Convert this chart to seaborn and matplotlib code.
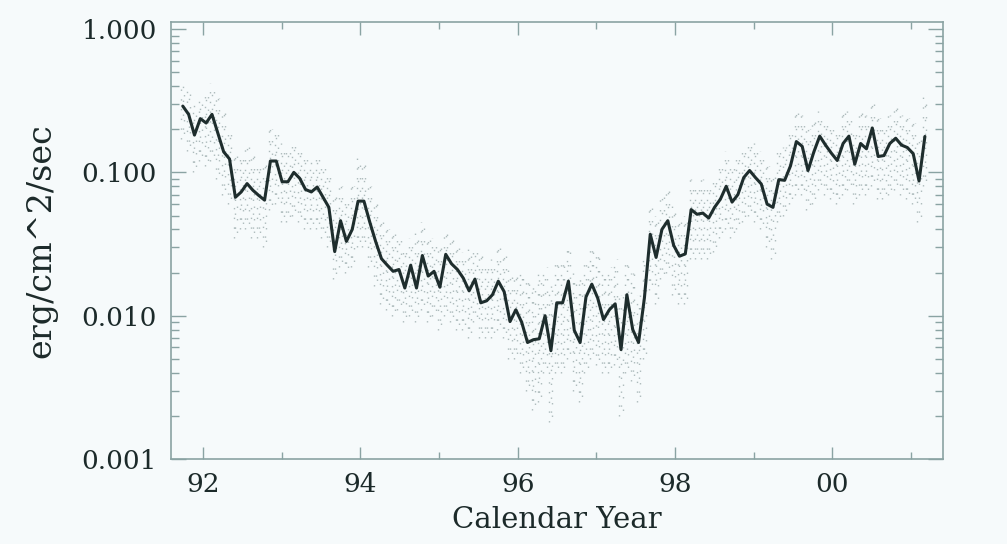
import numpy as np
import pandas as pd
import matplotlib
matplotlib.use("Agg")
import matplotlib.pyplot as plt
import matplotlib.ticker as mticker
import seaborn as sns

# ---- data (solar-rotation averages) ----
start_year = 91.74
rotation_days = 27.15

flux = [
    0.29, 0.254, 0.182, 0.237, 0.221, 0.254, 0.188, 0.139, 0.124, 0.067,
    0.073, 0.0835, 0.075, 0.069, 0.064, 0.12, 0.12, 0.086, 0.086, 0.10,
    0.091, 0.076, 0.073, 0.079, 0.067, 0.057, 0.028, 0.046, 0.033, 0.040,
    0.063, 0.063, 0.045, 0.033, 0.025, 0.0225, 0.0204, 0.021, 0.0156, 0.0225,
    0.0156, 0.0263, 0.0189, 0.0204, 0.0158, 0.0268, 0.023, 0.021, 0.0183, 0.0149,
    0.018, 0.0123, 0.0127, 0.014, 0.0174, 0.0147, 0.0091, 0.011, 0.009, 0.0065,
    0.0068, 0.0069, 0.010, 0.0057, 0.0123, 0.0123, 0.0174, 0.0079, 0.0065, 0.0135,
    0.0166, 0.0133, 0.0094, 0.011, 0.0121, 0.0058, 0.014, 0.008, 0.0065, 0.0133,
    0.037, 0.0255, 0.040, 0.046, 0.031, 0.026, 0.027, 0.055, 0.051, 0.052,
    0.048, 0.057, 0.065, 0.080, 0.062, 0.070, 0.092, 0.103, 0.092, 0.083,
    0.060, 0.057, 0.089, 0.088, 0.111, 0.164, 0.152, 0.103, 0.139, 0.179,
    0.155, 0.136, 0.121, 0.159, 0.179, 0.114, 0.159, 0.146, 0.204, 0.129,
    0.131, 0.159, 0.173, 0.155, 0.149, 0.135, 0.087, 0.178,
]

daily_high = [
    0.40, 0.38, 0.30, 0.33, 0.36, 0.42, 0.33, 0.26, 0.20, 0.14,
    0.13, 0.15, 0.13, 0.12, 0.12, 0.20, 0.19, 0.16, 0.15, 0.16,
    0.15, 0.13, 0.12, 0.13, 0.11, 0.10, 0.07, 0.08, 0.065, 0.08,
    0.13, 0.12, 0.08, 0.06, 0.045, 0.04, 0.038, 0.036, 0.03, 0.035,
    0.04, 0.045, 0.035, 0.035, 0.03, 0.04, 0.035, 0.032, 0.028, 0.03,
    0.03, 0.027, 0.024, 0.025, 0.03, 0.028, 0.022, 0.02, 0.02, 0.018,
    0.016, 0.02, 0.022, 0.016, 0.025, 0.024, 0.03, 0.02, 0.018, 0.025,
    0.03, 0.028, 0.02, 0.022, 0.025, 0.014, 0.025, 0.02, 0.014, 0.025,
    0.06, 0.05, 0.07, 0.08, 0.06, 0.045, 0.05, 0.09, 0.085, 0.09,
    0.085, 0.09, 0.11, 0.14, 0.12, 0.13, 0.15, 0.17, 0.16, 0.14,
    0.11, 0.10, 0.14, 0.15, 0.2, 0.27, 0.25, 0.2, 0.24, 0.27,
    0.24, 0.22, 0.2, 0.26, 0.27, 0.2, 0.26, 0.25, 0.32, 0.24,
    0.22, 0.25, 0.28, 0.25, 0.24, 0.22, 0.18, 0.35,
]

daily_low = [
    0.17, 0.14, 0.10, 0.12, 0.11, 0.12, 0.09, 0.07, 0.06, 0.035,
    0.04, 0.04, 0.035, 0.035, 0.03, 0.055, 0.06, 0.045, 0.045, 0.05,
    0.045, 0.04, 0.04, 0.04, 0.035, 0.03, 0.018, 0.022, 0.02, 0.022,
    0.03, 0.03, 0.022, 0.016, 0.012, 0.011, 0.01, 0.011, 0.009, 0.01,
    0.009, 0.011, 0.009, 0.01, 0.008, 0.01, 0.009, 0.008, 0.008, 0.007,
    0.009, 0.007, 0.007, 0.007, 0.008, 0.007, 0.005, 0.005, 0.004, 0.003,
    0.0022, 0.0025, 0.004, 0.0018, 0.004, 0.004, 0.005, 0.003, 0.0025, 0.004,
    0.005, 0.0045, 0.004, 0.004, 0.0045, 0.002, 0.004, 0.0035, 0.0025, 0.005,
    0.015, 0.012, 0.018, 0.02, 0.014, 0.012, 0.012, 0.025, 0.025, 0.025,
    0.025, 0.028, 0.035, 0.04, 0.035, 0.04, 0.045, 0.05, 0.045, 0.04,
    0.03, 0.025, 0.045, 0.05, 0.06, 0.07, 0.07, 0.055, 0.06, 0.075,
    0.07, 0.065, 0.06, 0.07, 0.075, 0.06, 0.07, 0.07, 0.08, 0.065,
    0.065, 0.07, 0.075, 0.07, 0.065, 0.06, 0.045, 0.08,
]

xtick_values = [92, 94, 96, 98, 100]
xtick_labels = ["92", "94", "96", "98", "00"]
ytick_values = [0.001, 0.01, 0.1, 1.0]
ytick_labels = ["0.001", "0.010", "0.100", "1.000"]

rotation = np.arange(len(flux))
year = start_year + rotation * rotation_days / 365.25
df = pd.DataFrame({"year": year, "flux": flux, "hi": daily_high, "lo": daily_low})

# ---- style ----
BG = "#f6fafb"
AX = "#8aa3a3"
TXT = "#1c2a2a"
sns.set_theme(style="ticks")
plt.rcParams["font.family"] = ["DejaVu Serif", "Liberation Serif"]

fig = plt.figure(figsize=(10.07, 5.44), dpi=100, facecolor=BG)
ax = fig.add_axes([0.1698, 0.1562, 0.7666, 0.8034])
ax.set_facecolor(BG)

# daily scatter represented as sparse dotted columns spanning each rotation's range
for off, dash in [(-0.02, (0, (1, 6))), (0.0, (3, (1, 9))), (0.02, (5, (1, 8)))]:
    ax.vlines(df["year"] + off, df["lo"], df["hi"], colors="#3f5c5c",
              linewidth=1.0, alpha=0.4, linestyles=[dash])

sns.lineplot(data=df, x="year", y="flux", ax=ax, color="#1e2d2d",
             linewidth=2.2, legend=False)

ax.set_yscale("log")
ax.set_xlim(91.59, 101.41)
ax.set_ylim(0.001, 1.12)

ax.set_xticks(xtick_values)
ax.set_xticklabels(xtick_labels)
ax.xaxis.set_minor_locator(mticker.FixedLocator([93, 95, 97, 99, 101]))
ax.set_yticks(ytick_values)
ax.set_yticklabels(ytick_labels)
ax.yaxis.set_minor_locator(mticker.LogLocator(base=10, subs=np.arange(2, 10)))
ax.yaxis.set_minor_formatter(mticker.NullFormatter())

ax.tick_params(which="both", direction="in", top=True, right=True,
               color=AX, labelcolor=TXT, labelsize=19)
ax.tick_params(axis="y", which="major", length=11, width=1.0, pad=10)
ax.tick_params(axis="y", which="minor", length=6, width=1.0)
ax.tick_params(axis="x", which="major", length=9, width=1.0, pad=9)
ax.tick_params(axis="x", which="minor", length=5, width=1.0)
for s in ax.spines.values():
    s.set_color(AX)
    s.set_linewidth(1.2)

ax.set_xlabel("Calendar Year", fontsize=21, color=TXT, labelpad=7)
ax.set_ylabel("erg/cm^2/sec", fontsize=24, color=TXT)
ax.yaxis.set_label_coords(-0.147, 0.5)

fig.savefig("out.png", dpi=100, facecolor=BG)
